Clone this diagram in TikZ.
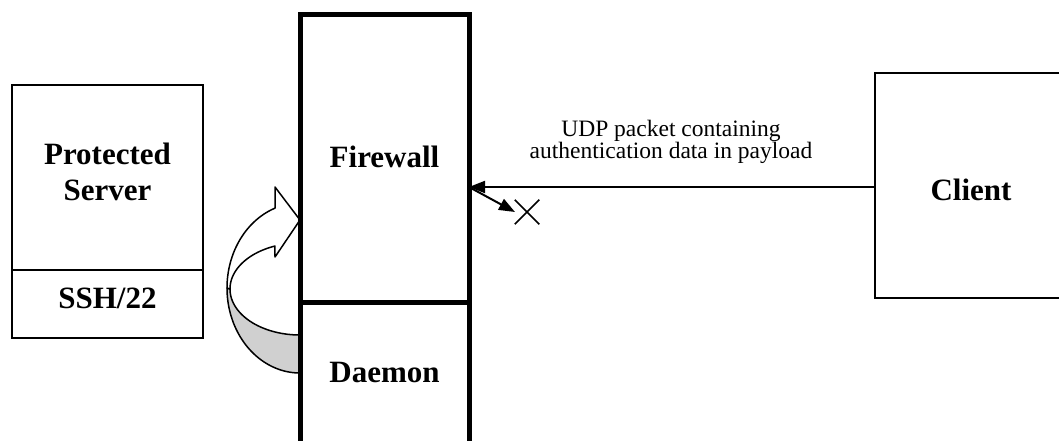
\documentclass[tikz,border=0pt]{standalone}
\usepackage{fontspec}
\setmainfont{Liberation Serif}
\usetikzlibrary{arrows.meta,shapes.misc}
\definecolor{bandgrey}{RGB}{208,208,208}
\begin{document}
\begin{tikzpicture}[x=1pt,y=-1pt,
  thinbox/.style={draw, line width=2pt, inner sep=0pt, outer sep=0pt},
  thickbox/.style={draw, line width=5pt, inner sep=0pt, outer sep=0pt},
  bigtext/.style={font=\bfseries\fontsize{31}{36}\selectfont, inner sep=0pt},
  msgtext/.style={font=\fontsize{23.5}{21}\selectfont, align=center, inner sep=0pt},
  ribbon/.style={draw, line width=1.5pt, line join=round},
  conn/.style={draw, line width=2pt},
  tipshape/.style={-{Triangle[length=16pt,width=12pt]}},
  xmark/.style={cross out, draw, line width=1.5pt, minimum size=23pt, inner sep=0pt}
]
\useasboundingbox (0,0) rectangle (1059,441);

% Protected server
\node[thinbox, minimum width=191pt, minimum height=185pt] (server) at (107.5,177.5) {};
\node[thinbox, minimum width=191pt, minimum height=68pt] (ssh) at (107.5,304) {};
\node[bigtext, align=center] (serverlabel) at (107.5,171.5) {Protected\\Server};
\node[bigtext, anchor=base] (sshlabel) at (107.5,308) {SSH/22};

% Client
\node[thinbox, minimum width=186pt, minimum height=225pt] (client) at (968,185.5) {};
\node[bigtext, anchor=base] (clientlabel) at (971,200) {Client};

% Curved arrow (ribbon)
\path[ribbon, fill=bandgrey]
  plot[domain=90:180, samples=50] ({300+73*cos(\x)},{288+85*sin(\x)})
  -- plot[domain=180:90, samples=50] ({300+70*cos(\x)},{289+46*sin(\x)})
  -- cycle;
\path[ribbon, fill=white]
  plot[domain=180:250, samples=50] ({300+73*cos(\x)},{288+85*sin(\x)})
  -- (275,187) -- (300,220) -- (275,257)
  -- plot[domain=249:180, samples=50] ({300+70*cos(\x)},{289+46*sin(\x)})
  -- cycle;

% Firewall and daemon
\node[thickbox, minimum width=169pt, minimum height=287.5pt] (firewall) at (384.5,158.25) {};
\node[thickbox, minimum width=169pt, minimum height=168pt] (daemon) at (384.5,386) {};
\node[bigtext, anchor=base] (firewalllabel) at (384.5,167) {Firewall};
\node[bigtext, anchor=base] (daemonlabel) at (384.5,382) {Daemon};

% UDP packet
\coordinate (arrowy) at (0,187);
\draw[conn, tipshape] (client.west |- arrowy) -- (firewall.east |- arrowy);
\node[msgtext] (msg) at (671,141.9) {UDP packet containing\\authentication data in payload};

% Deflected packet
\coordinate (deflect) at (515,212);
\draw[conn, tipshape] (firewall.east |- arrowy) -- (deflect);
\node[xmark] (blocked) at (527,212) {};
\end{tikzpicture}
\end{document}
